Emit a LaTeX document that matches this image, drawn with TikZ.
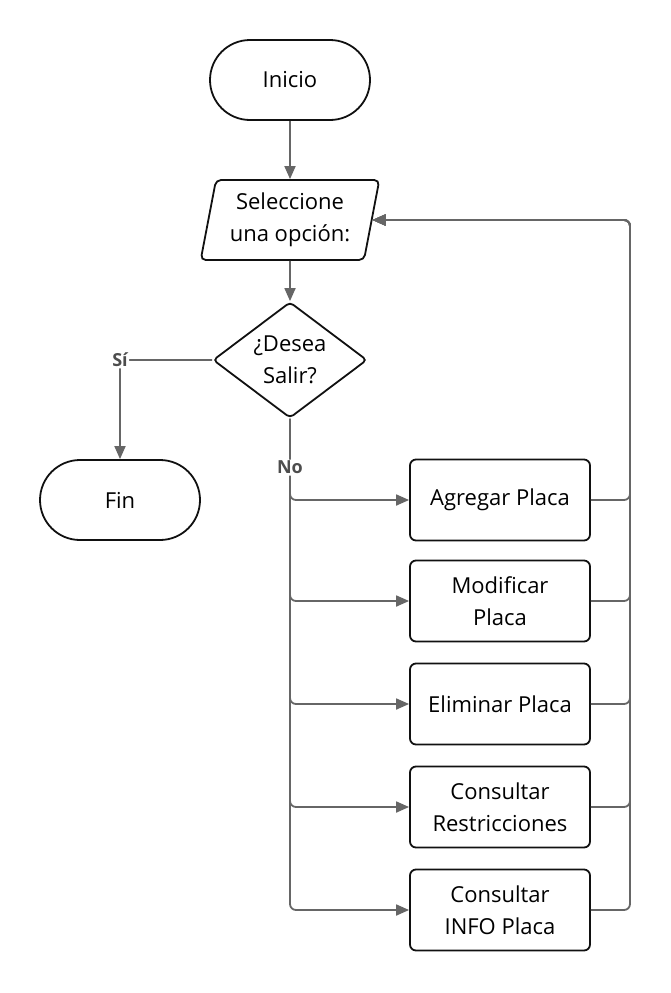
\documentclass[tikz,border=0pt]{standalone}
\usepackage{fontspec}
\setmainfont{Open Sans}
\usetikzlibrary{arrows.meta,positioning,shapes.geometric}
\definecolor{INK}{HTML}{111111}
\definecolor{LINE}{HTML}{666666}
\definecolor{LBL}{HTML}{4D4D4D}

\begin{document}
\begin{tikzpicture}[
  x=1pt, y=-1pt,
  font=\fontsize{22}{32}\selectfont,
  base/.style={draw=INK, line width=1.8pt, align=center, fill=white, inner sep=0pt},
  term/.style={base, rounded corners=40pt, minimum width=160pt, minimum height=80pt},
  proc/.style={base, rounded corners=6pt, minimum width=180pt, minimum height=81pt},
  io/.style={base, trapezium, trapezium left angle=77, trapezium right angle=103, trapezium stretches=true, rounded corners=5pt, minimum width=179pt, minimum height=80pt},
  dec/.style={base, diamond, aspect=1.3, rounded corners=4pt, minimum width=154pt, minimum height=116pt},
  arr/.style={-{Triangle[length=13pt,width=11pt]}, draw=LINE, line width=1.8pt, rounded corners=6pt},
  lbl/.style={font=\fontsize{18}{20}\selectfont\bfseries, text=LBL, fill=white, inner sep=1.5pt},
]
\useasboundingbox (0,0) rectangle (671,993);

% main column
\node[term] (ini) at (290,80) {Inicio};
\node[io] (sel) at (290,220) {Seleccione\\una opción:};
\node[dec] (dec) at (290,360) {¿Desea\\Salir?};
\node[term] (fin) at (120,500) {Fin};

% options
\node[proc] (agr) at (500,500) {Agregar Placa};
\node[proc] (mod) at (500,601) {Modificar\\Placa};
\node[proc] (eli) at (500,704) {Eliminar Placa};
\node[proc] (res) at (500,807) {Consultar\\Restricciones};
\node[proc] (inf) at (500,910) {Consultar\\INFO Placa};
\coordinate (ret) at (630,220);

\draw[arr] (ini) -- (sel);
\draw[arr] (sel) -- (dec);
\draw[arr] (dec.west) -| node[lbl, pos=0.5] {Sí} (fin.north);

% branches and returns
\foreach \b in {mod,eli,res,inf}
  \draw[arr] (dec.south) |- (\b.west);
\draw[arr] (dec.south) |- node[lbl, pos=0.3] {No} (agr.west);
\foreach \b in {agr,mod,eli,res,inf}
  \draw[arr] (\b.east) -| (ret) -- (sel.east);

\end{tikzpicture}
\end{document}
